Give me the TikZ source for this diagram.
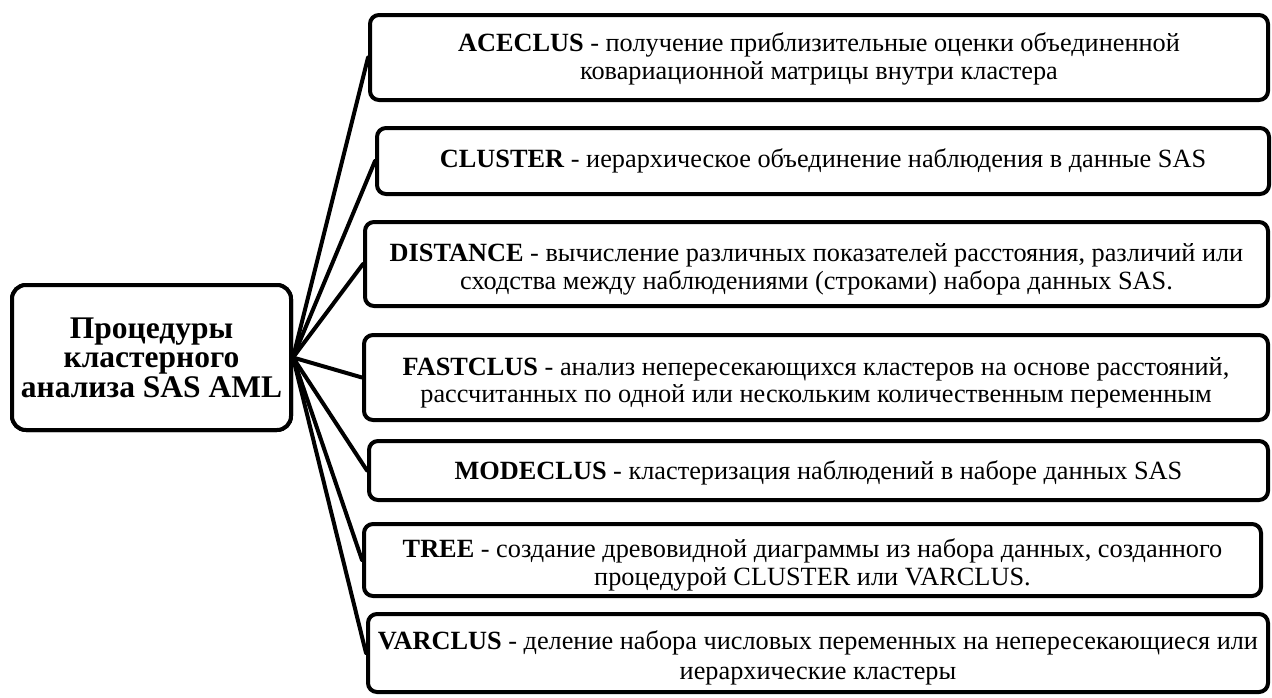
\documentclass[tikz,border=0pt]{standalone}
\usepackage{fontspec}
\setmainfont{Liberation Serif}
\newcommand{\tallstrutx}{\rule{0pt}{29pt}}
\begin{document}
\begin{tikzpicture}[x=1pt,y=-1pt,
  pbox/.style={draw=black, line width=4pt, rounded corners=9pt, fill=white,
    inner sep=1pt, align=center, font=\fontsize{26.3}{27.5}\selectfont},
  mainbox/.style={draw=black, line width=4pt, rounded corners=14pt, fill=white,
    inner sep=1pt, align=center, font=\fontsize{31.5}{29.5}\selectfont\bfseries},
  link/.style={line width=4pt, line cap=round}]
\useasboundingbox (0,0) rectangle (1272,697);
\node[mainbox, minimum width=279, minimum height=145] (L) at (151.5,357.5)
  {Процедуры\\кластерного\\анализа SAS AML};
\node[pbox, minimum width=898, minimum height=85] (b1) at (819,57.5)
  {\rule{0pt}{22pt}\textbf{ACECLUS} - получение приблизительные оценки объединенной\\ковариационной матрицы внутри кластера};
\node[pbox, minimum width=892, minimum height=66] (b2) at (823,161)
  {\textbf{CLUSTER} - иерархическое объединение наблюдения в данные SAS};
\node[pbox, minimum width=903, minimum height=84] (b3) at (816.5,264)
  {\tallstrutx\textbf{DISTANCE} - вычисление различных показателей расстояния, различий или\\сходства между наблюдениями (строками) набора данных SAS.};
\node[pbox, minimum width=904, minimum height=85] (b4) at (816,377.5)
  {\tallstrutx\textbf{FASTCLUS} - анализ непересекающихся кластеров на основе расстояний,\\рассчитанных по одной или нескольким количественным переменным};
\node[pbox, minimum width=899, minimum height=59] (b5) at (818.5,470.5)
  {\rule{0pt}{24pt}\textbf{MODECLUS} - кластеризация наблюдений в наборе данных SAS};
\node[pbox, minimum width=897, minimum height=72] (b6) at (812.5,560)
  {\tallstrutx\textbf{TREE} - создание древовидной диаграммы из набора данных, созданного\\процедурой CLUSTER или VARCLUS.};
\node[pbox, minimum width=900, minimum height=78] (b7) at (818,653)
  {\tallstrutx\textbf{VARCLUS} - деление набора числовых переменных на непересекающиеся или\\[2pt]иерархические кластеры};
\foreach \b in {b1,b2,b3,b4,b5,b6,b7}{
  \draw[link] (L.east) -- (\b.west);
}
\node[mainbox, minimum width=279, minimum height=145] at (L.center)
  {Процедуры\\кластерного\\анализа SAS AML};
\end{tikzpicture}
\end{document}
